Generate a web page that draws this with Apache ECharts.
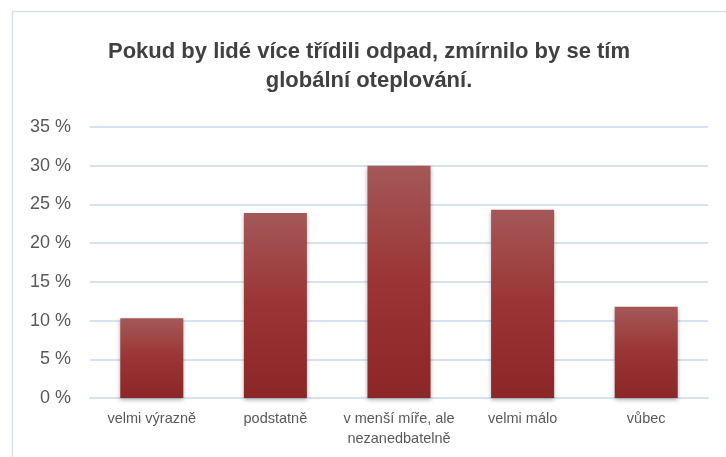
<!DOCTYPE html>
<html><head><meta charset="utf-8">
<script src="https://cdn.jsdelivr.net/npm/echarts@6/dist/echarts.min.js"></script>
<style>html,body{margin:0;padding:0;background:#fff}#c{width:726px;height:457px}</style>
</head><body><div id="c"></div>
<script>
const categories = ['velmi výrazně', 'podstatně', 'v menší míře, ale\nnezanedbatelně', 'velmi málo', 'vůbec'];
const values = [10.3, 23.9, 30.0, 24.3, 11.8];
const titleText = 'Pokud by lidé více třídili odpad, zmírnilo by se tím\nglobální oteplování.';

const chart = echarts.init(document.getElementById('c'));
chart.setOption({
  animation: false,
  backgroundColor: '#fff',
  graphic: [{
    type: 'rect', silent: true, z: -1,
    shape: {x: 12.5, y: 11.5, width: 900, height: 600},
    style: {fill: 'none', stroke: '#d6e2f2', lineWidth: 1.5}
  }],
  title: {
    text: titleText,
    left: 364, top: 32, textAlign: 'center',
    textStyle: {fontFamily: 'Liberation Sans', fontWeight: 'bold', fontSize: 22, color: '#404040', lineHeight: 29}
  },
  grid: {left: 90, right: 18, top: 127, bottom: 59, containLabel: false},
  xAxis: {
    type: 'category', data: categories,
    axisLine: {show: true, lineStyle: {color: '#d6e2f2', width: 2}},
    axisTick: {show: false},
    axisLabel: {fontFamily: 'Liberation Sans', fontSize: 14.5, color: '#595959', margin: 11, lineHeight: 20, interval: 0}
  },
  yAxis: {
    type: 'value', min: 0, max: 35, interval: 5,
    axisLine: {show: false}, axisTick: {show: false},
    splitLine: {lineStyle: {color: '#d6e2f2', width: 2}},
    axisLabel: {fontFamily: 'Liberation Sans', fontSize: 18, color: '#595959', margin: 19, formatter: '{value} %'}
  },
  series: [{
    type: 'bar', data: values, barWidth: '51%',
    itemStyle: {
      color: new echarts.graphic.LinearGradient(0, 0, 0, 1, [
        {offset: 0, color: '#a45858'},
        {offset: 0.5, color: '#9b3434'},
        {offset: 1, color: '#8c2727'}
      ]),
      shadowColor: 'rgba(0,0,0,0.3)', shadowBlur: 4, shadowOffsetY: 2
    }
  }]
});
</script></body></html>
